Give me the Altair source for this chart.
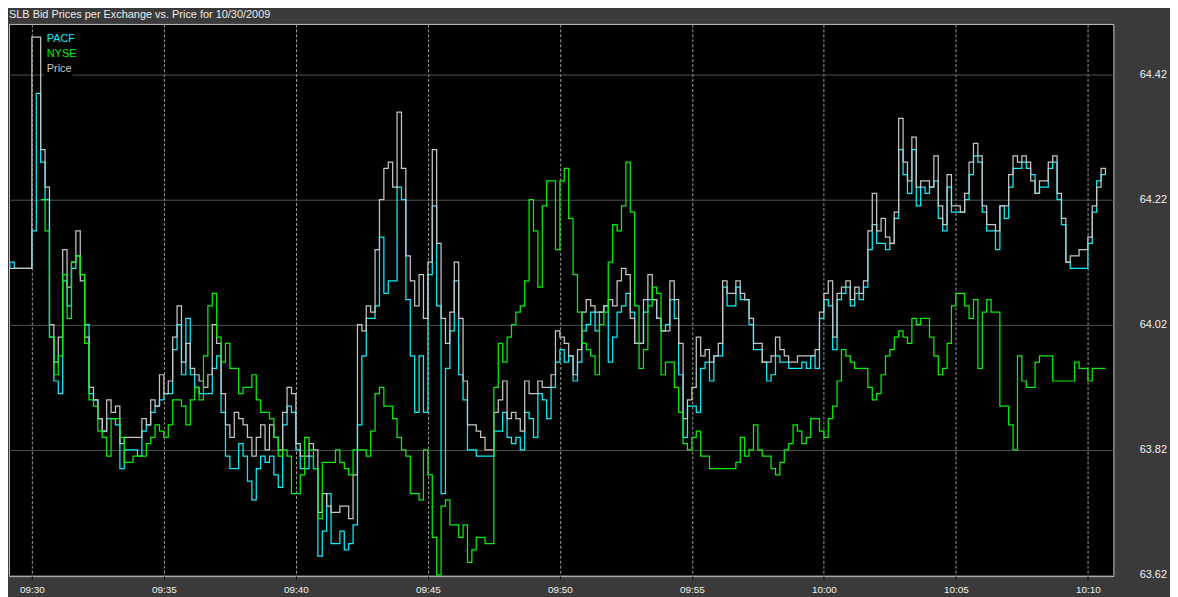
import altair as alt
import pandas as pd

TITLE = "SLB Bid Prices per Exchange vs. Price for 10/30/2009"
SERIES = ["PACF", "NYSE", "Price"]
COLORS = ["#10eefa", "#0aee0a", "#c6c6c6"]

# sample times, seconds after 09:30:00 (10 s apart)
t_sec = list(range(-60, 2450, 10))

price = [
    64.11, 64.11, 64.11, 64.11, 64.11, 64.11,
    64.48, 64.48, 64.30, 64.24, 64.02, 63.96,
    64.00, 64.14, 64.08, 64.12, 64.17, 64.09,
    64.00, 63.92, 63.90, 63.87, 63.85, 63.90,
    63.88, 63.89, 63.83, 63.84, 63.84, 63.84,
    63.84, 63.87, 63.86, 63.90, 63.89, 63.94,
    63.91, 63.93, 64.00, 64.05, 63.96, 63.99,
    63.95, 63.94, 63.93, 63.92, 63.94, 64.02,
    63.99, 63.91, 63.86, 63.84, 63.88, 63.87,
    63.86, 63.84, 63.81, 63.84, 63.86, 63.82,
    63.86, 63.84, 63.82, 63.88, 63.92, 63.91,
    63.83, 63.81, 63.81, 63.83, 63.82, 63.72,
    63.75, 63.73, 63.72, 63.72, 63.73, 63.73,
    63.71, 63.78, 64.02, 64.01, 64.05, 64.04,
    64.14, 64.22, 64.27, 64.28, 64.24, 64.36,
    64.27, 64.13, 64.09, 64.05, 64.10, 64.03,
    64.12, 64.30, 64.15, 64.03, 63.99, 64.04,
    64.12, 64.03, 63.93, 63.86, 63.86, 63.85,
    63.84, 63.82, 63.82, 63.88, 63.90, 63.93,
    63.87, 63.88, 63.87, 63.85, 63.93, 63.91,
    63.91, 63.93, 63.92, 63.92, 63.94, 64.01,
    64.00, 63.99, 63.97, 63.94, 63.98, 64.04,
    64.06, 64.05, 64.04, 64.04, 64.05, 64.06,
    64.05, 64.09, 64.11, 64.10, 64.03, 63.99,
    63.99, 64.06, 64.10, 64.06, 64.03, 64.01,
    64.01, 64.09, 64.06, 63.99, 63.87, 63.90,
    63.92, 64.00, 63.97, 63.98, 63.96, 63.97,
    63.99, 64.09, 64.07, 64.07, 64.09, 64.07,
    64.06, 64.03, 63.99, 63.99, 63.96, 63.96,
    63.97, 64.00, 63.98, 63.97, 63.96, 63.96,
    63.97, 63.97, 63.97, 63.97, 63.98, 64.04,
    64.07, 64.09, 64.00, 64.07, 64.08, 64.09,
    64.06, 64.08, 64.07, 64.09, 64.17, 64.23,
    64.17, 64.19, 64.16, 64.15, 64.20, 64.35,
    64.28, 64.25, 64.32, 64.24, 64.25, 64.25,
    64.24, 64.29, 64.21, 64.18, 64.26, 64.21,
    64.21, 64.20, 64.23, 64.28, 64.31, 64.29,
    64.21, 64.18, 64.18, 64.17, 64.21, 64.21,
    64.26, 64.29, 64.28, 64.29, 64.28, 64.25,
    64.23, 64.25, 64.25, 64.28, 64.29, 64.23,
    64.19, 64.12, 64.13, 64.13, 64.14, 64.14,
    64.16, 64.21, 64.24, 64.27, 64.26,
]

pacf = [
    64.11, 64.12, 64.11, 64.11, 64.11, 64.11,
    64.17, 64.39, 64.28, 64.22, 64.00, 63.93,
    63.91, 64.09, 64.05, 64.11, 64.13, 64.10,
    64.02, 63.91, 63.90, 63.87, 63.85, 63.87,
    63.87, 63.86, 63.79, 63.82, 63.82, 63.82,
    63.81, 63.85, 63.86, 63.88, 63.89, 63.90,
    63.91, 63.91, 63.98, 64.02, 63.94, 64.03,
    63.94, 63.92, 63.91, 63.91, 63.91, 63.95,
    63.97, 63.88, 63.81, 63.79, 63.79, 63.83,
    63.81, 63.77, 63.74, 63.79, 63.81, 63.80,
    63.81, 63.78, 63.76, 63.86, 63.89, 63.88,
    63.82, 63.79, 63.79, 63.81, 63.79, 63.65,
    63.69, 63.75, 63.67, 63.67, 63.69, 63.66,
    63.67, 63.70, 63.86, 63.97, 64.03, 64.03,
    64.05, 64.16, 64.07, 64.09, 64.09, 64.24,
    64.22, 64.06, 63.97, 63.88, 63.97, 63.88,
    64.10, 64.21, 64.05, 63.75, 63.95, 64.01,
    64.09, 63.94, 63.90, 63.82, 63.82, 63.81,
    63.81, 63.81, 63.81, 63.85, 63.85, 63.88,
    63.84, 63.83, 63.84, 63.82, 63.88, 63.87,
    63.84, 63.91, 63.90, 63.87, 63.92, 63.96,
    63.98, 63.96, 63.97, 63.93, 63.96, 64.01,
    64.02, 64.04, 64.01, 64.04, 64.05, 63.96,
    64.00, 64.04, 64.05, 64.07, 64.04, 63.99,
    63.99, 64.04, 64.06, 64.06, 64.03, 64.01,
    64.02, 64.06, 64.03, 63.94, 63.84, 63.89,
    63.89, 63.88, 63.95, 63.96, 63.93, 63.97,
    63.97, 64.08, 64.05, 64.05, 64.08, 64.06,
    64.06, 64.02, 63.98, 63.98, 63.96, 63.93,
    63.94, 63.97, 63.96, 63.96, 63.95, 63.95,
    63.95, 63.96, 63.95, 63.97, 63.95, 64.03,
    64.06, 64.05, 63.98, 64.06, 64.07, 64.08,
    64.05, 64.07, 64.06, 64.08, 64.14, 64.18,
    64.15, 64.15, 64.14, 64.15, 64.19, 64.30,
    64.26, 64.23, 64.30, 64.21, 64.24, 64.23,
    64.24, 64.25, 64.19, 64.17, 64.24, 64.20,
    64.20, 64.20, 64.22, 64.26, 64.29, 64.28,
    64.20, 64.17, 64.17, 64.14, 64.21, 64.19,
    64.24, 64.27, 64.27, 64.28, 64.27, 64.26,
    64.23, 64.24, 64.24, 64.27, 64.28, 64.22,
    64.18, 64.12, 64.11, 64.11, 64.11, 64.11,
    64.15, 64.20, 64.25, 64.26, 64.26,
]

nyse = [
    None, None, None, None, None, None,
    None, None, 64.22, 64.17, 64.00, 63.94,
    63.97, 64.10, 64.03, 64.12, 64.13, 64.10,
    63.99, 63.90, 63.89, 63.85, 63.84, 63.81,
    63.87, 63.87, 63.84, 63.80, 63.80, 63.81,
    63.81, 63.81, 63.83, 63.84, 63.86, 63.85,
    63.84, 63.86, 63.90, 63.90, 63.89, 63.86,
    63.90, 63.92, 63.90, 63.97, 64.05, 64.07,
    64.00, 63.96, 63.99, 63.95, 63.95, 63.91,
    63.92, 63.92, 63.94, 63.90, 63.88, 63.88,
    63.87, 63.84, 63.81, 63.82, 63.81, 63.75,
    63.75, 63.78, 63.84, 63.82, 63.79, 63.71,
    63.80, 63.80, 63.80, 63.82, 63.80, 63.79,
    63.78, 63.82, 63.82, 63.82, 63.81, 63.85,
    63.91, 63.92, 63.89, 63.89, 63.87, 63.84,
    63.82, 63.81, 63.75, 63.75, 63.74, 63.82,
    63.78, 63.68, 63.62, 63.73, 63.74, 63.70,
    63.70, 63.68, 63.70, 63.64, 63.66, 63.68,
    63.68, 63.67, 63.67, 63.92, 63.99, 63.96,
    64.00, 64.02, 64.04, 64.05, 64.09, 64.22,
    64.17, 64.08, 64.21, 64.25, 64.25, 64.14,
    64.25, 64.27, 64.19, 64.10, 64.04, 63.99,
    63.98, 63.97, 63.94, 64.02, 64.04, 64.12,
    64.18, 64.17, 64.21, 64.28, 64.20, 64.05,
    63.95, 63.98, 64.05, 64.08, 64.07, 63.94,
    63.96, 63.96, 63.92, 63.88, 63.83, 63.82,
    63.84, 63.85, 63.81, 63.81, 63.79, 63.79,
    63.79, 63.79, 63.79, 63.79, 63.80, 63.84,
    63.81, 63.82, 63.86, 63.82, 63.81, 63.81,
    63.79, 63.78, 63.80, 63.82, 63.83, 63.86,
    63.85, 63.83, 63.84, 63.87, 63.87, 63.85,
    63.84, 63.87, 63.89, 63.93, 63.98, 63.97,
    63.96, 63.95, 63.95, 63.95, 63.92, 63.90,
    63.91, 63.94, 63.97, 63.98, 64.00, 64.01,
    64.00, 63.99, 64.03, 64.02, 64.03, 64.03,
    64.00, 63.97, 63.94, 63.95, 63.99, 64.05,
    64.07, 64.07, 64.05, 64.03, 64.06, 63.95,
    64.04, 64.06, 64.04, 64.04, 63.89, 63.89,
    63.86, 63.82, 63.97, 63.93, 63.92, 63.92,
    63.96, 63.97, 63.97, 63.97, 63.93, 63.93,
    63.93, 63.93, 63.93, 63.96, 63.95, 63.95,
    63.93, 63.95, 63.95, 63.95, 63.95,
]

Y_TICKS = [63.62, 63.82, 64.02, 64.22, 64.42]
Y_DOMAIN = [63.618, 64.501]

assert len(t_sec) == len(price) == len(pacf) == len(nyse)

base = pd.Timestamp("2009-10-30 09:30:00")
times = base + pd.to_timedelta(t_sec, unit="s")

rows = []
for name, vals in zip(SERIES, [pacf, nyse, price]):
    for tm, v in zip(times, vals):
        if v is not None:
            rows.append({"time": tm, "value": v, "series": name})
df = pd.DataFrame(rows)


def dt(h, m, s=0):
    return alt.DateTime(year=2009, month=10, date=30, hours=h, minutes=m, seconds=s)


x_ticks = [dt(9 + (30 + 5 * k) // 60, (30 + 5 * k) % 60) for k in range(9)]

x_enc = alt.X(
    "time:T",
    scale=alt.Scale(domain=[dt(9, 29, 8), dt(10, 10, 58)]),
    axis=alt.Axis(
        values=x_ticks, format="%H:%M", title=None, domain=False,
        grid=True, gridColor="#a0a0a0", gridDash=[3, 2], gridWidth=1,
        ticks=True, tickColor="#000000", tickSize=3, labelPadding=5,
        labelColor="#f2f2f2", labelFont="Liberation Sans", labelFontSize=10,
        labelFlush=False,
    ),
)
y_enc = alt.Y(
    "value:Q",
    scale=alt.Scale(domain=Y_DOMAIN, nice=False, zero=False),
    axis=alt.Axis(
        orient="right", values=Y_TICKS, format=".2f", title=None, domain=False,
        grid=True, gridColor="#525252", gridWidth=1, ticks=False, tickSize=0,
        labelPadding=26, labelColor="#f2f2f2", labelFont="Liberation Sans",
        labelFontSize=11,
    ),
)
color_enc = alt.Color("series:N", scale=alt.Scale(domain=SERIES, range=COLORS), legend=None)

draw_order = ["PACF", "Price", "NYSE"]
line_layers = [
    alt.Chart(df[df["series"] == s])
    .mark_line(interpolate="step-after", strokeWidth=1.25, clip=True)
    .encode(x=x_enc, y=y_enc, color=color_enc)
    for s in draw_order
]

legend_box = alt.Chart(pd.DataFrame({"a": [0]})).mark_rect(color="#000000").encode(
    x=alt.value(35), x2=alt.value(64), y=alt.value(5), y2=alt.value(54)
)
legend_texts = []
for i, (name, col) in enumerate(zip(SERIES, COLORS)):
    legend_texts.append(
        alt.Chart(pd.DataFrame({"name": [name]}))
        .mark_text(align="left", baseline="middle", font="Liberation Sans", fontSize=11)
        .encode(text="name:N", x=alt.value(38), y=alt.value(15 + 15 * i), color=alt.value(col))
    )

chart = (
    alt.layer(*line_layers, legend_box, *legend_texts)
    .properties(
        width=1112,
        height=556,
        background="#3a3a3a",
        padding={"left": 1, "top": 14, "right": 57, "bottom": 19},
        autosize=alt.AutoSizeParams(type="none"),
        title=alt.Title(
            TITLE, anchor="start", color="#ececec", font="Liberation Sans",
            fontSize=11, fontWeight="normal", offset=4,
        ),
    )
    .configure_view(stroke="#c8c8c8", strokeWidth=1, fill="#000000")
)

chart.save("out.html", embed_options={"renderer": "svg", "actions": False})
